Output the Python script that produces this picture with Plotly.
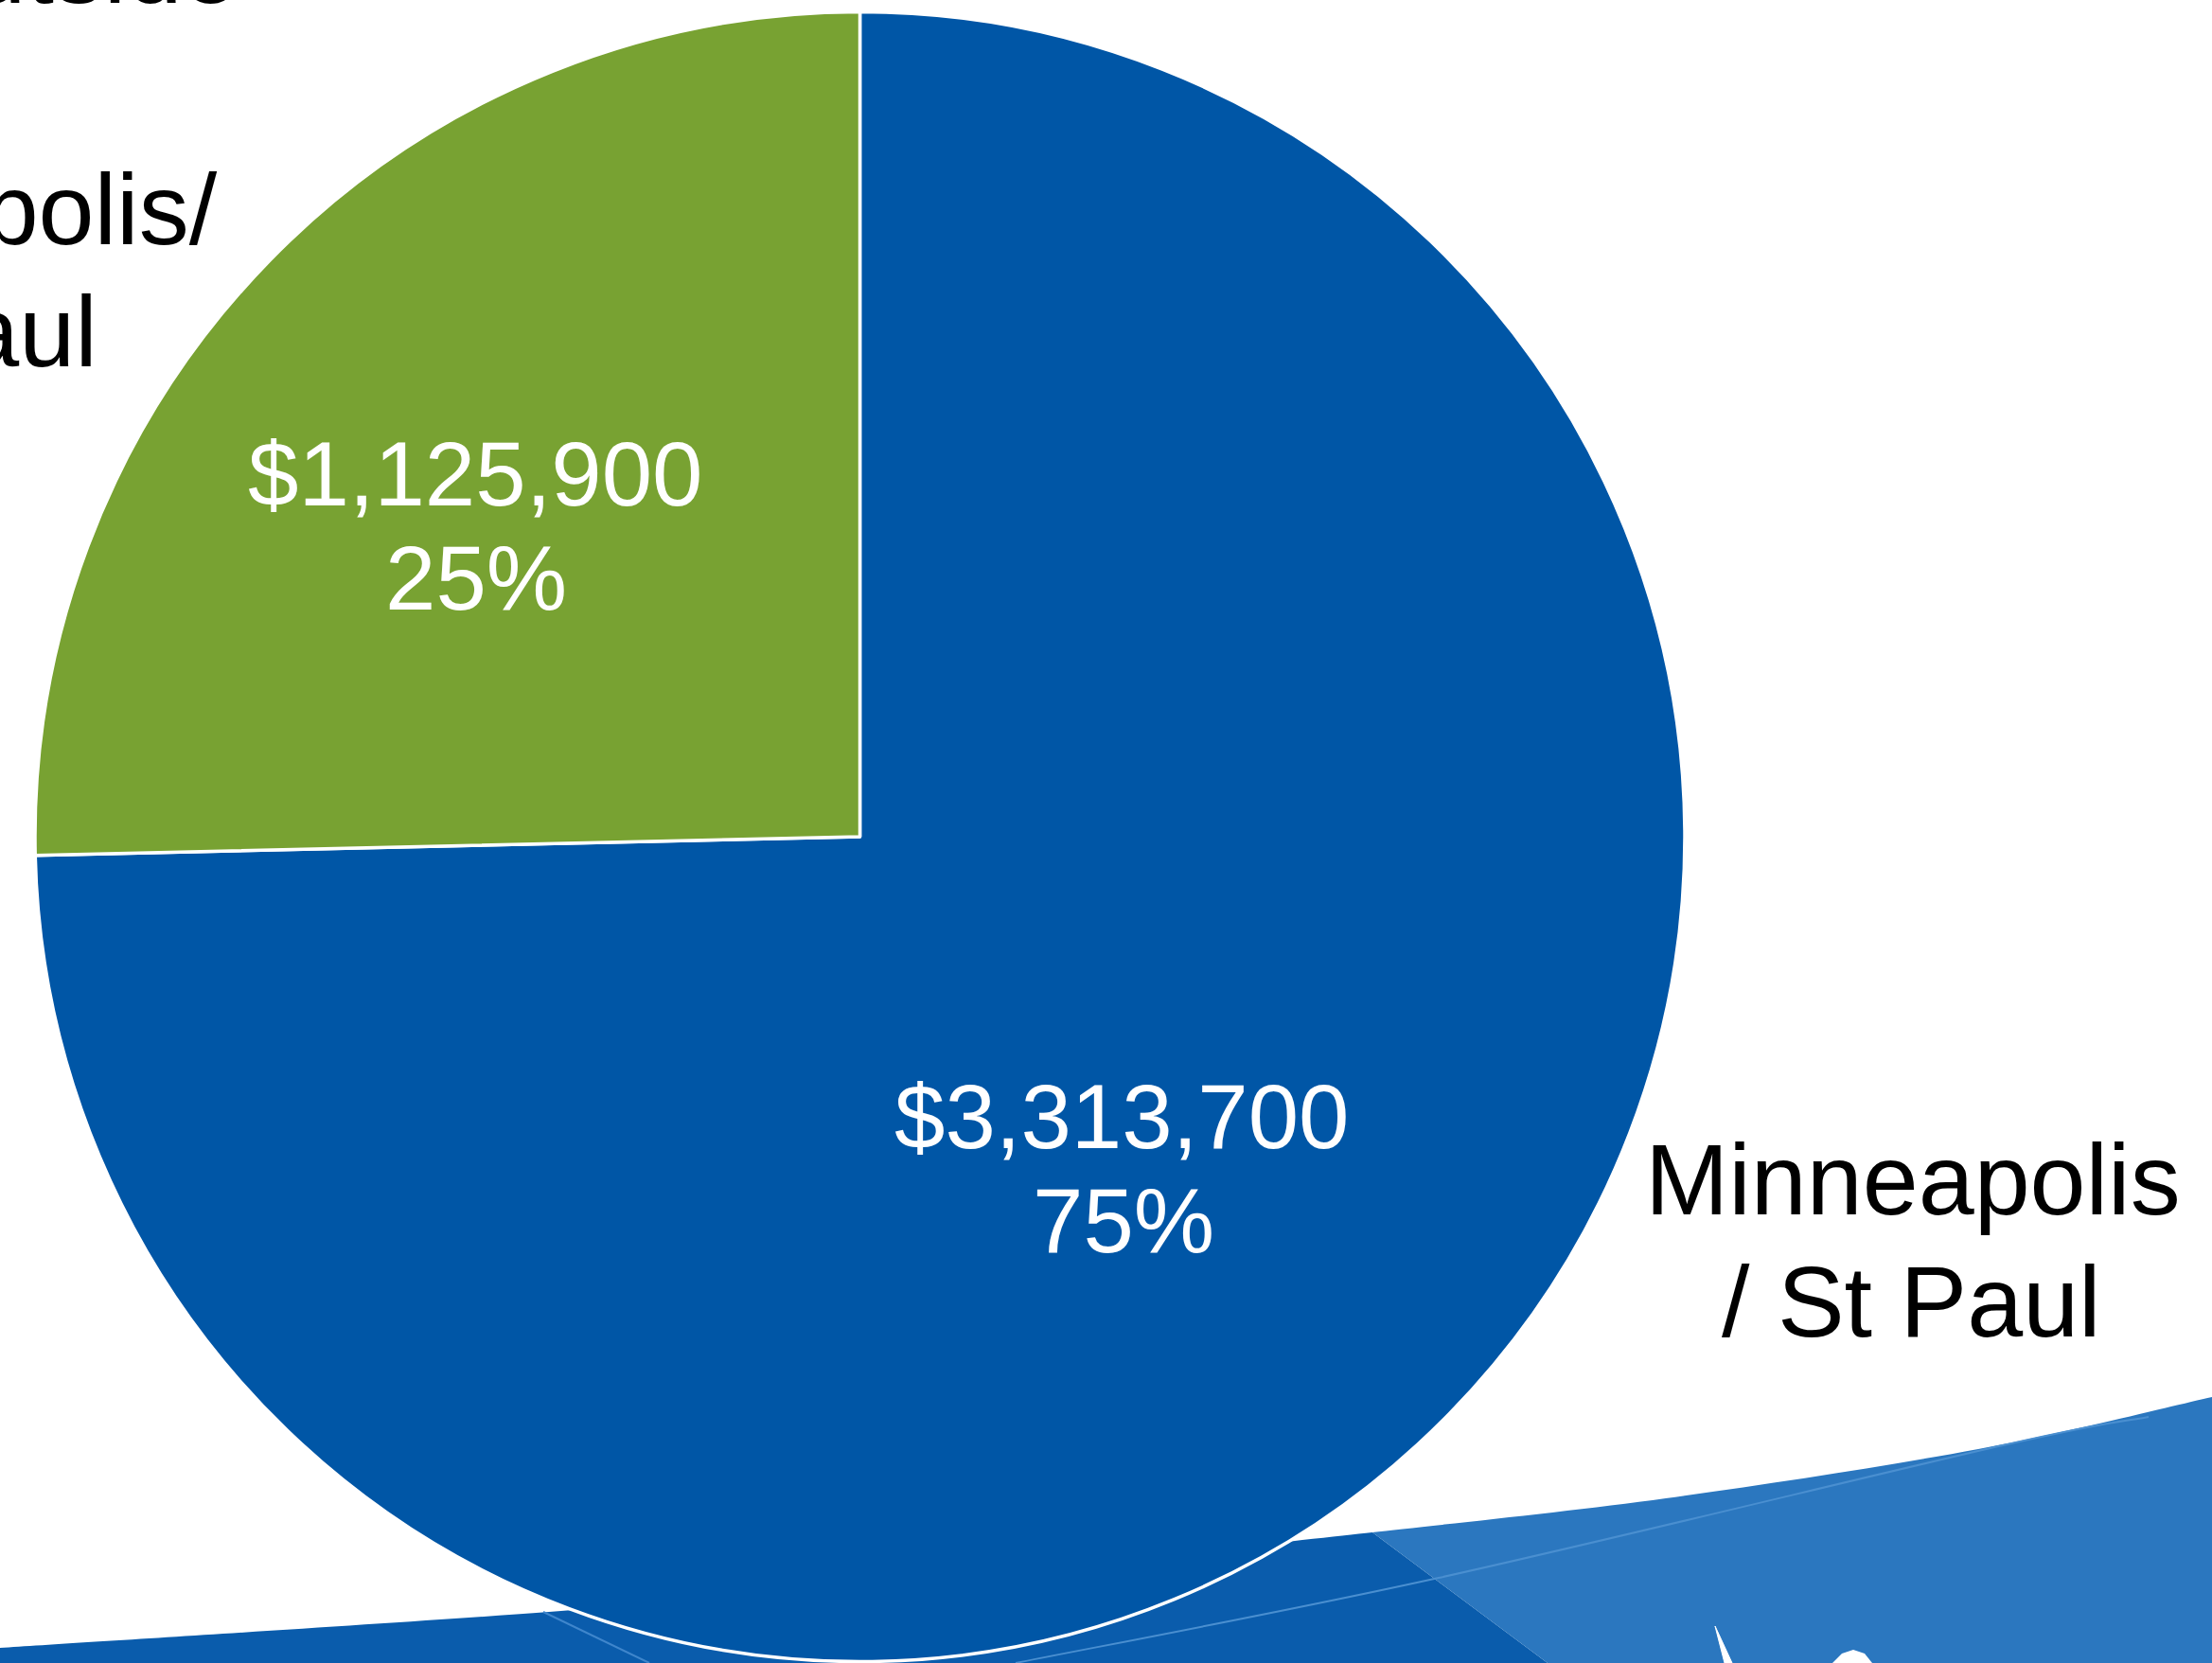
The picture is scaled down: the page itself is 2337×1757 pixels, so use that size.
import plotly.graph_objects as go

# ---------------- data ----------------
categories = ["Minneapolis / St Paul", "Outside Minneapolis/ St Paul"]
values = [3313700, 1125900]
slice_colors = ["#0056A6", "#78A232"]

# category label lines as printed on the chart
right_label_lines = ["Minneapolis", "/ St Paul"]
left_label_lines = ["Minneapolis/", "St Paul"]
top_fragment = "Outside"

# ---------------- geometry helpers ----------------
W, H = 2337, 1757
FONT = "Arial, 'Liberation Sans', sans-serif"


def fx(x):
    return x / W


def fy(y):
    return 1 - y / H


def pt(p):
    return f"{fx(p[0]):.5f},{fy(p[1]):.5f}"


def path_from(points, close=True):
    s = "M " + " L ".join(pt(p) for p in points)
    return s + (" Z" if close else "")


def smooth_segments(points):
    """Catmull-Rom through points, as cubic bezier commands (without the initial M)."""
    out = []
    n = len(points)
    for i in range(n - 1):
        p0 = points[i - 1] if i > 0 else points[i]
        p1 = points[i]
        p2 = points[i + 1]
        p3 = points[i + 2] if i + 2 < n else points[i + 1]
        c1 = (p1[0] + (p2[0] - p0[0]) / 6, p1[1] + (p2[1] - p0[1]) / 6)
        c2 = (p2[0] - (p3[0] - p1[0]) / 6, p2[1] - (p3[1] - p1[1]) / 6)
        out.append(f"C {pt(c1)} {pt(c2)} {pt(p2)}")
    return " ".join(out)


total = sum(values)
money_text = [f"${v:,}" for v in values]
pct_text = [f"{round(100 * v / total)}%" for v in values]

# pie placement (pixels)
cx, cy, r = 908.5, 884.0, 871.5

fig = go.Figure()
fig.add_trace(
    go.Pie(
        labels=categories,
        values=values,
        sort=False,
        direction="clockwise",
        rotation=0,
        marker=dict(colors=slice_colors, line=dict(color="white", width=3.5)),
        textinfo="none",
        hoverinfo="label+value+percent",
        showlegend=False,
        domain=dict(x=[fx(cx - r), fx(cx + r)], y=[(H - cy - r) / H, (H - cy + r) / H]),
    )
)

# ---------------- background swoosh (slide template decoration) ----------------
left_edge = [(0, 1741), (580, 1703), (1000, 1667), (1450, 1619)]
right_edge = [(1450, 1619), (1760, 1583), (2090, 1531), (2337, 1476)]
split_bottom = (1635, 1757)

dark_path = ("M " + pt((0, 1757)) + " L " + pt(left_edge[0]) + " "
             + smooth_segments(left_edge) + " L " + pt(split_bottom) + " Z")
light_path = ("M " + pt(right_edge[0]) + " " + smooth_segments(right_edge)
              + " L " + pt((2337, 1757)) + " L " + pt(split_bottom) + " Z")

glint = [(1073, 1757), (1520, 1667), (2116, 1527), (2270, 1497)]
glint_path = "M " + pt(glint[0]) + " " + smooth_segments(glint)

shapes = [
    dict(type="path", xref="paper", yref="paper", layer="below",
         path=dark_path, fillcolor="#0A5CAC", line=dict(width=0)),
    dict(type="path", xref="paper", yref="paper", layer="below",
         path=light_path, fillcolor="#2B77BF", line=dict(width=0)),
    dict(type="path", xref="paper", yref="paper", layer="below",
         path=path_from([(574, 1703), (686, 1757)], close=False),
         line=dict(color="#3F86CC", width=2)),
    dict(type="path", xref="paper", yref="paper", layer="below",
         path=glint_path, line=dict(color="#4A8FD0", width=2)),
    dict(type="path", xref="paper", yref="paper", layer="below",
         path=path_from([(1812, 1718), (1822, 1757), (1830, 1757)]),
         fillcolor="white", line=dict(color="white", width=1)),
    dict(type="path", xref="paper", yref="paper", layer="below",
         path=path_from([(1936, 1757), (1946, 1747), (1958, 1743), (1970, 1747), (1978, 1757)]),
         fillcolor="white", line=dict(width=0)),
]

# ---------------- text ----------------
annotations = []


def add_text(text, x, y, size, color, xanchor="center"):
    annotations.append(dict(
        text=text, x=fx(x), y=fy(y), xref="paper", yref="paper",
        xanchor=xanchor, yanchor="middle", showarrow=False,
        font=dict(family=FONT, size=size, color=color),
    ))


VAL_FS = 96
LAB_FS = 106
# value labels inside slices (line centers in px)
add_text(money_text[0], 1185, 1179, VAL_FS, "white")
add_text(pct_text[0], 1187, 1289, VAL_FS, "white")
add_text(money_text[1], 502, 500, VAL_FS, "white")
add_text(pct_text[1], 503, 610, VAL_FS, "white")

# category labels
add_text(right_label_lines[0], 2021, 1246, LAB_FS, "black")
add_text(right_label_lines[1], 2019, 1375, LAB_FS, "black")
add_text(left_label_lines[0], -68, 221, LAB_FS, "black")
add_text(left_label_lines[1], -68, 350, LAB_FS, "black")
add_text(top_fragment, 253, -34, LAB_FS, "black", xanchor="right")

fig.update_layout(
    width=W, height=H,
    margin=dict(l=0, r=0, t=0, b=0),
    paper_bgcolor="white",
    plot_bgcolor="white",
    showlegend=False,
    shapes=shapes,
    annotations=annotations,
)

fig.write_html(
    "out.html",
    config={"displayModeBar": False},
    post_script="document.body.style.margin='0';document.body.style.overflow='hidden';",
)
